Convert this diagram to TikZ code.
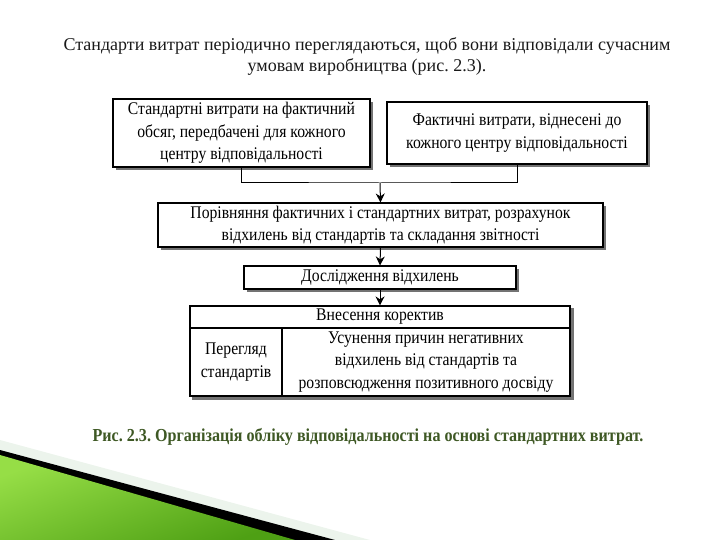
\documentclass[tikz,border=0pt]{standalone}
\usepackage{fontspec}
\setmainfont{Liberation Serif}
\newfontfamily\condfont{Liberation Serif}[FakeStretch=0.88]
\usetikzlibrary{arrows.meta,shadows,fit,backgrounds}
\definecolor{capgreen}{RGB}{62,88,36}
\definecolor{lgreen}{RGB}{150,222,70}
\definecolor{dgreen}{RGB}{78,160,20}
\frenchspacing
\tikzset{
  boxstyle/.style={draw=black, line width=1.1pt, fill=white, inner sep=0pt, align=center,
    font=\condfont\fontsize{17.8}{22.5}\selectfont,
    drop shadow={shadow xshift=3pt, shadow yshift=-3pt, fill=black!55, opacity=1}},
  cellstyle/.style={draw=black, line width=1.1pt, fill=white, inner sep=0pt, align=center,
    font=\condfont\fontsize{17.8}{22.5}\selectfont},
  conn/.style={line width=1pt, draw=black},
  arr/.style={line width=1pt, draw=black, -{Stealth[length=9pt,width=9pt]}}
}
\begin{document}
\begin{tikzpicture}[x=1pt,y=-1pt]
\useasboundingbox (0,0) rectangle (720,540);
% bottom-left decoration
\fill[green!25!gray!12] (0,440) -- (370,540) -- (0,540) -- cycle;
\fill[black] (0,450) -- (335,540) -- (0,540) -- cycle;
\shade[top color=lgreen, bottom color=dgreen, shading angle=20] (0,455) -- (295,540) -- (0,540) -- cycle;
% title
\node[font=\fontsize{18}{21}\selectfont, align=center, text=black!90] (title) at (367,57)
  {Стандарти витрат періодично переглядаються, щоб вони відповідали сучасним\\умовам виробництва (рис. 2.3).};
% boxes
\node[boxstyle, minimum width=257pt, minimum height=68pt] (b1) at (241.5,133)
  {Стандартні витрати на фактичний\\обсяг, передбачені для кожного\\центру відповідальності};
\node[boxstyle, minimum width=260pt, minimum height=62pt] (b2) at (517,133)
  {Фактичні витрати, віднесені до\\кожного центру відповідальності};
\node[boxstyle, minimum width=445pt, minimum height=44pt] (b3) at (380.5,225)
  {Порівняння фактичних і стандартних витрат, розрахунок\\відхилень від стандартів та складання звітності};
\node[boxstyle, minimum width=272pt, minimum height=23pt] (b4) at (380,277.5)
  {Дослідження відхилень};
% table
\node[cellstyle, minimum width=380pt, minimum height=22pt] (hdr) at (380,317)
  {Внесення коректив};
\node[cellstyle, minimum width=92pt, minimum height=68pt] (cl) at (236,362)
  {Перегляд\\стандартів};
\node[cellstyle, minimum width=288pt, minimum height=68pt] (cr) at (426,362)
  {Усунення причин негативних\\відхилень від стандартів та\\розповсюдження позитивного досвіду};
\begin{pgfonlayer}{background}
\node[fit=(hdr)(cl)(cr), inner sep=0pt, fill=white,
  drop shadow={shadow xshift=3pt, shadow yshift=-3pt, fill=black!55, opacity=1}] (tbl) {};
\end{pgfonlayer}
% connectors
\coordinate (jn) at (380,183);
\draw[conn] (b1.south) |- (jn) -| (b2.south);
\draw[arr] (jn) -- (b3.north);
\draw[arr] (b3.south) -- (b4.north);
\draw[arr] (b4.south) -- (hdr.north);
% caption
\node[font=\condfont\bfseries\fontsize{18.3}{20}\selectfont, text=capgreen] (cap) at (368,437)
  {Рис. 2.3. Організація обліку відповідальності на основі стандартних витрат.};
\end{tikzpicture}
\end{document}
